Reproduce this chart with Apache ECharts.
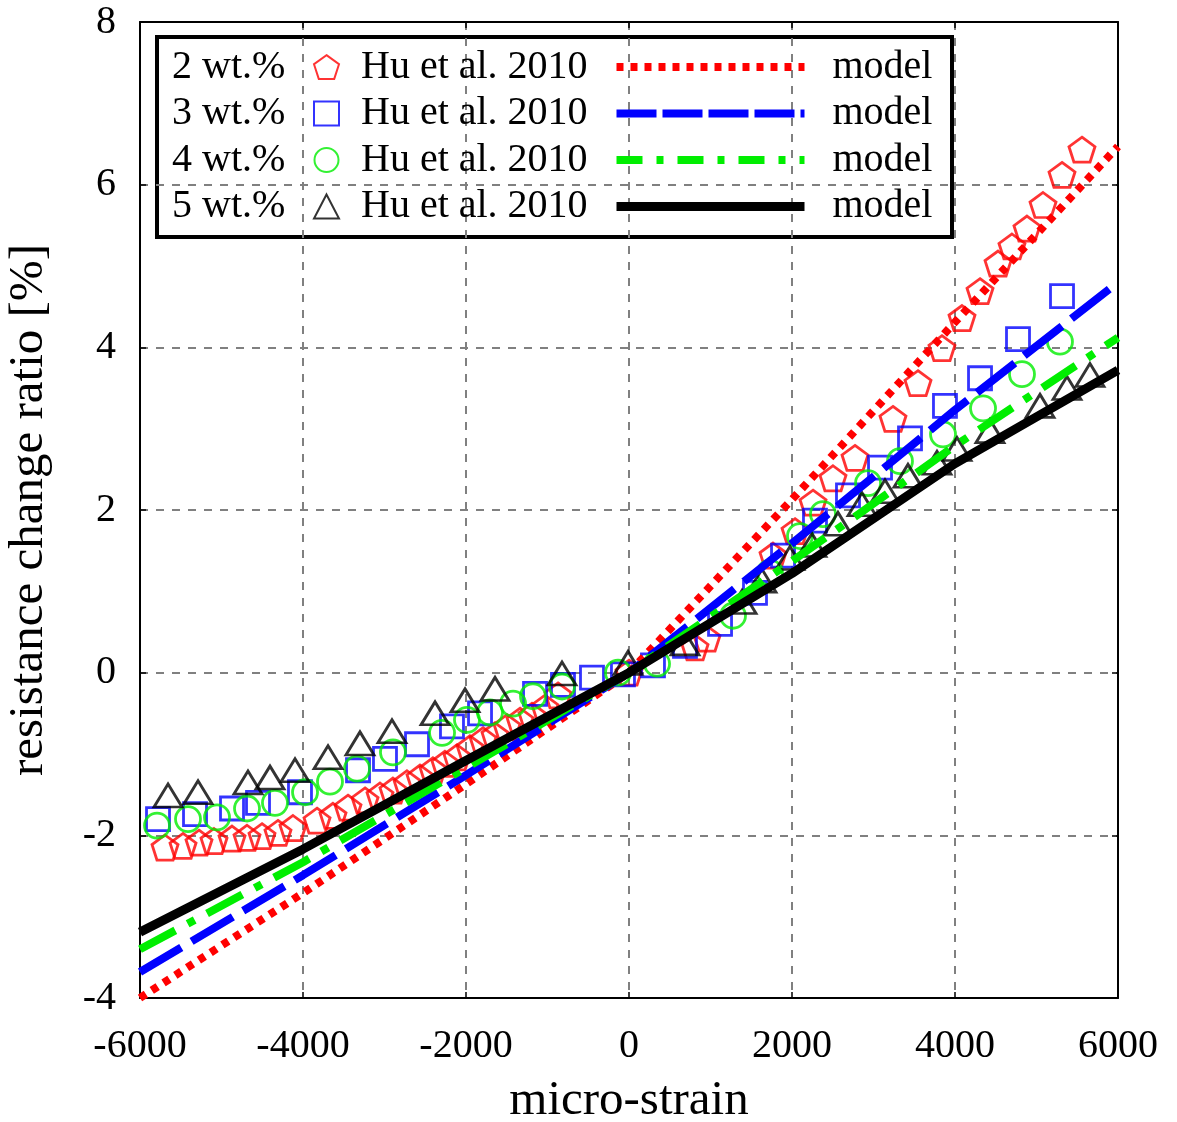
<!DOCTYPE html>
<html>
<head>
<meta charset="utf-8">
<script src="https://cdn.jsdelivr.net/npm/echarts@6/dist/echarts.min.js"></script>
<style>
html,body{margin:0;padding:0;background:#fff;}
#c{width:1177px;height:1122px;}
</style>
</head>
<body>
<div id="c"></div>
<script>
// ---- data ----
const xTicks = [-6000, -4000, -2000, 0, 2000, 4000, 6000];
const yTicks = [-4, -2, 0, 2, 4, 6, 8];
const concentrations = ['2 wt.%', '3 wt.%', '4 wt.%', '5 wt.%'];
const dataLabel = 'Hu et al. 2010';
const modelLabel = 'model';

// experimental data (micro-strain, %)
const exp2 = [
  [-5693,-2.15],[-5472,-2.13],[-5276,-2.09],[-5092,-2.07],[-4871,-2.04],[-4687,-2.03],
  [-4503,-2.01],[-4307,-1.97],[-4123,-1.91],[-3828,-1.82],[-3632,-1.76],[-3448,-1.66],
  [-3239,-1.57],[-3055,-1.51],[-2896,-1.45],[-2724,-1.36],[-2564,-1.29],[-2405,-1.20],
  [-2258,-1.12],[-2110,-1.04],[-1951,-0.93],[-1791,-0.83],[-1644,-0.77],[-1497,-0.67],
  [-1337,-0.59],[-1190,-0.53],[-1031,-0.43],[-871,-0.28],[0,0.0],[810,0.31],[957,0.42],
  [1767,1.44],[2037,1.74],[2258,2.09],[2503,2.39],[2773,2.64],[3239,3.12],[3546,3.56],
  [3840,3.99],[4086,4.36],[4307,4.69],[4528,5.03],[4699,5.24],[4883,5.46],[5080,5.75],
  [5313,6.12],[5558,6.43]
];
const exp3 = [
  [-5779,-1.80],[-5325,-1.74],[-4871,-1.67],[-4552,-1.60],[-4037,-1.47],[-3325,-1.20],
  [-2994,-1.06],[-2601,-0.88],[-2172,-0.66],[-1828,-0.50],[-1153,-0.26],[-810,-0.15],
  [-454,-0.06],[-74,-0.02],[294,0.09],[687,0.33],[1117,0.60],[1546,0.98],[1890,1.44],
  [2282,1.87],[2687,2.18],[3080,2.52],[3448,2.88],[3877,3.28],[4307,3.62],[4773,4.10],
  [5313,4.63]
];
const exp4 = [
  [-5791,-1.88],[-5411,-1.80],[-5055,-1.78],[-4687,-1.67],[-4344,-1.60],[-3975,-1.47],
  [-3669,-1.34],[-3337,-1.18],[-2896,-0.98],[-2294,-0.74],[-1988,-0.58],[-1706,-0.49],
  [-1423,-0.38],[-1178,-0.29],[-822,-0.17],[-135,0.0],[344,0.11],[1276,0.70],[1730,1.23],
  [2098,1.68],[2380,1.95],[2933,2.33],[3325,2.60],[3853,2.93],[4344,3.25],[4822,3.67],
  [5288,4.07]
];
const exp5 = [
  [-5656,-1.51],[-5288,-1.47],[-4675,-1.35],[-4405,-1.29],[-4098,-1.20],[-3693,-1.04],
  [-3301,-0.87],[-2908,-0.72],[-2380,-0.50],[-2012,-0.34],[-1644,-0.20],[-822,-0.01],
  [-12,0.12],[687,0.36],[1387,0.87],[1632,1.13],[1975,1.41],[2245,1.57],[2564,1.83],
  [2859,2.07],[3141,2.23],[3423,2.42],[3779,2.58],[4025,2.75],[4429,2.97],[5043,3.28],
  [5374,3.50],[5656,3.66]
];

// model curves
const xModel = [-6000, -4000, -2000, 0, 2000, 4000, 6000];
const model2 = [-4.00, -2.71, -1.37, 0, 2.13, 4.31, 6.47];
const model3 = [-3.68, -2.49, -1.26, 0, 1.59, 3.23, 4.80];
const model4 = [-3.40, -2.33, -1.17, 0, 1.37, 2.79, 4.12];
const model5 = [-3.19, -2.17, -1.08, 0, 1.22, 2.57, 3.72];

// ---- chart ----
const FONT = "'Liberation Serif', 'DejaVu Serif', serif";
const pentagon = 'path://M0,-1L0.951,-0.309L0.588,0.809L-0.588,0.809L-0.951,-0.309Z';
const zip = (xs, ys) => xs.map((x, i) => [x, ys[i]]);

const expSets = [exp2, exp3, exp4, exp5];
const modelSets = [model2, model3, model4, model5];
const colors = ['#ff0000', '#0000ff', '#00ee00', '#000000'];
const symbols = [pentagon, 'rect', 'circle', 'triangle'];
const symSizes = [[26, 25], 23, 25, [28, 23]];
const lineTypes = [[7, 7], [48, 12], [40, 14, 8, 14], 'solid'];
const legendLineTypes = [[7, 7], [40, 6], [26, 14, 7, 14], 'solid'];
const lineWidths = [8, 8, 8, 9];

const series = [];
const scatterLegend = [], lineLegend = [];
concentrations.forEach((c, i) => {
  const sn = c + '|' + dataLabel;
  const ln = c + '|' + modelLabel;
  scatterLegend.push({ name: sn });
  lineLegend.push({
    name: ln,
    itemStyle: { color: 'rgba(0,0,0,0)', borderWidth: 0, opacity: 0 },
    lineStyle: { color: colors[i], width: lineWidths[i], type: legendLineTypes[i], cap: 'butt' }
  });
  series.push({
    name: sn, type: 'scatter', data: expSets[i],
    symbol: symbols[i], symbolSize: symSizes[i],
    itemStyle: { color: 'rgba(255,255,255,0)', borderColor: colors[i], borderWidth: 2.8 },
    emphasis: { disabled: true }
  });
  series.push({
    name: ln, type: 'line', data: zip(xModel, modelSets[i]),
    showSymbol: false, symbol: 'none',
    lineStyle: { color: colors[i], width: lineWidths[i], type: lineTypes[i], cap: 'butt' },
    itemStyle: { color: colors[i] },
    emphasis: { disabled: true }
  });
});

const rowY = [67, 113, 160, 206];
const axisCommon = {
  type: 'value',
  axisLine: { show: true, onZero: false, lineStyle: { color: '#000', width: 2 } },
  axisTick: { show: true, inside: true, length: 6, lineStyle: { color: '#000', width: 1.5 } }
};
const chart = echarts.init(document.getElementById('c'));
chart.setOption({
  animation: false,
  backgroundColor: '#fff',
  grid: { left: 140, right: 59, top: 22, bottom: 124, outerBoundsMode: 'none', containLabel: false },
  xAxis: [Object.assign({}, axisCommon, {
    min: -6000, max: 6000, interval: 2000, position: 'bottom',
    name: 'micro-strain', nameLocation: 'middle', nameGap: 79,
    nameTextStyle: { fontFamily: FONT, fontSize: 49, color: '#000' },
    axisLabel: { fontFamily: FONT, fontSize: 40, color: '#000', margin: 28,
      formatter: v => xTicks.includes(v) ? String(v) : '' },
    splitLine: { show: true, lineStyle: { color: '#808080', width: 2, type: [8, 8] } }
  }), Object.assign({}, axisCommon, {
    min: -6000, max: 6000, interval: 2000, position: 'top',
    axisLabel: { show: false }, splitLine: { show: false }
  })],
  yAxis: [Object.assign({}, axisCommon, {
    min: -4, max: 8, interval: 2, position: 'left',
    name: 'resistance change ratio [%]', nameLocation: 'middle', nameGap: 86, nameRotate: 90,
    nameTextStyle: { fontFamily: FONT, fontSize: 49, color: '#000' },
    axisLabel: { fontFamily: FONT, fontSize: 40, color: '#000', margin: 24,
      formatter: v => yTicks.includes(v) ? String(v) : '' },
    splitLine: { show: true, lineStyle: { color: '#808080', width: 2, type: [8, 8] } }
  }), Object.assign({}, axisCommon, {
    min: -4, max: 8, interval: 2, position: 'right',
    axisLabel: { show: false }, splitLine: { show: false }
  })],
  legend: [{
    data: scatterLegend, orient: 'vertical', left: 313, top: 47, padding: 0,
    itemWidth: 25, itemHeight: 24, itemGap: 6.5, selectedMode: false,
    formatter: n => n.split('|')[1],
    textStyle: { fontFamily: FONT, fontSize: 40, color: '#000', lineHeight: 40, padding: [0, 0, 0, 17] }
  }, {
    data: lineLegend, orient: 'vertical', left: 612, top: 47, padding: 0,
    itemWidth: 188, itemHeight: 24, itemGap: 6.5, selectedMode: false,
    formatter: n => n.split('|')[1],
    textStyle: { fontFamily: FONT, fontSize: 40, color: '#000', lineHeight: 40, padding: [0, 0, 0, 23] }
  }],
  graphic: [
    { type: 'rect', left: 155, top: 35, shape: { width: 795, height: 200 },
      style: { fill: '#fff', stroke: '#000', lineWidth: 4 }, z: 0, silent: true }
  ].concat(concentrations.map((c, i) => ({
    type: 'text', left: 172, top: rowY[i] - 20, z: 10, silent: true,
    style: { text: c, fontFamily: FONT, fontSize: 40, fill: '#000', lineHeight: 40 }
  }))),
  series: series
});
</script>
</body>
</html>
